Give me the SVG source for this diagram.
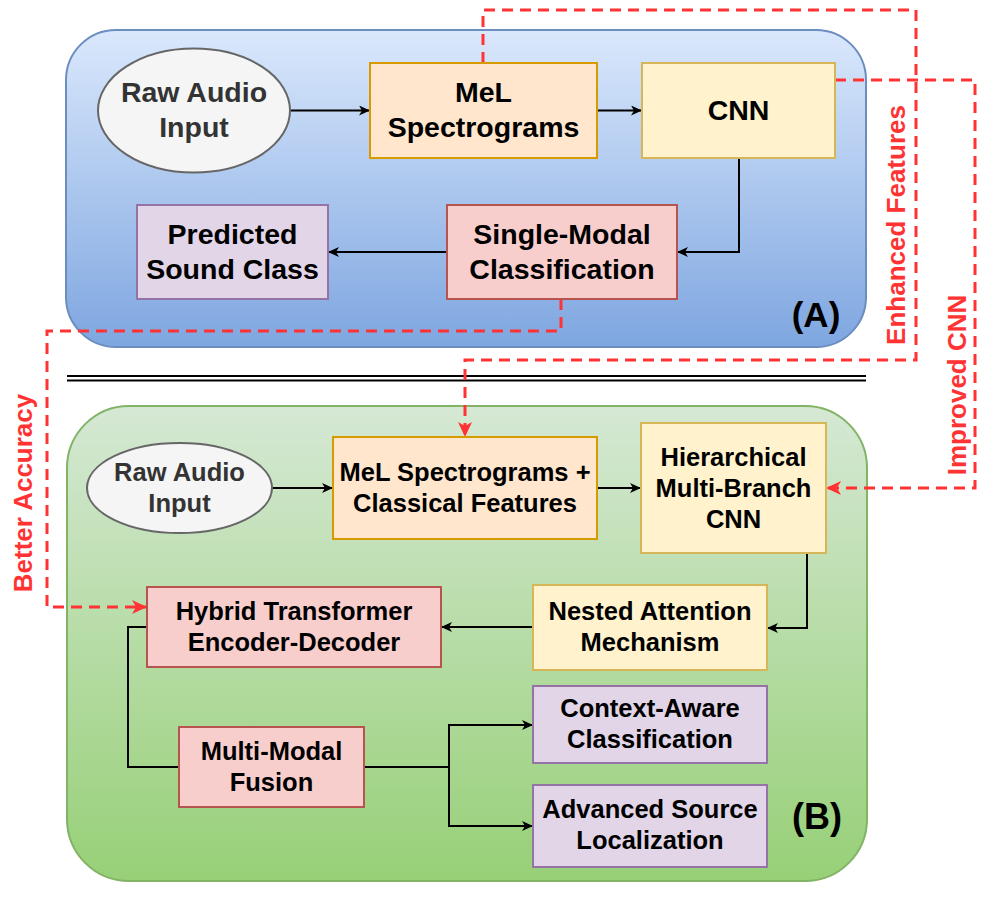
<svg xmlns="http://www.w3.org/2000/svg" width="994" height="900" viewBox="0 0 994 900">
<style>
.t{font-family:"Liberation Sans",Arial,sans-serif;font-weight:bold;fill:#000;text-anchor:middle}
.ta{font-size:28.5px}
.tb{font-size:25.5px}
.gray{fill:#333}
.red{font-family:"Liberation Sans",Arial,sans-serif;font-weight:bold;font-size:26px;fill:#f33;text-anchor:middle}
.orange{fill:#ffe6cc;stroke:#d79b00;stroke-width:2}
.yellow{fill:#fff2cc;stroke:#d6b656;stroke-width:2}
.pink{fill:#f8cecc;stroke:#b85450;stroke-width:2}
.purple{fill:#e1d5e7;stroke:#9673a6;stroke-width:2}
.ell{fill:#f5f5f5;stroke:#666;stroke-width:2}
.c{fill:none;stroke:#000;stroke-width:2;marker-end:url(#ab)}
.cn{fill:none;stroke:#000;stroke-width:2}
.d{fill:none;stroke:#f33;stroke-width:3;stroke-dasharray:11 7;marker-end:url(#ar)}
</style>
<defs>
<linearGradient id="ga" x1="0" y1="0" x2="0" y2="1"><stop offset="0" stop-color="#dae8fc"/><stop offset="1" stop-color="#7ea6e0"/></linearGradient>
<linearGradient id="gb" x1="0" y1="0" x2="0" y2="1"><stop offset="0" stop-color="#d5e8d4"/><stop offset="1" stop-color="#97d077"/></linearGradient>
<marker id="ab" markerUnits="userSpaceOnUse" markerWidth="12" markerHeight="10" refX="11" refY="5" orient="auto"><path d="M0,0 L11,5 L0,10 L3,5 z" fill="#000"/></marker>
<marker id="ar" markerUnits="userSpaceOnUse" markerWidth="16" markerHeight="14" refX="15" refY="7" orient="auto"><path d="M0,0 L15,7 L0,14 L4,7 z" fill="#f33"/></marker>
</defs>

<g id="panelA"><rect x="66" y="30" width="800" height="317" rx="50" fill="url(#ga)" stroke="#6c8ebf" stroke-width="2"/><text class="t" x="816" y="327" font-size="35">(A)</text></g>
<g id="separator"><line x1="67" y1="376" x2="866" y2="376" stroke="#000" stroke-width="2"/><line x1="67" y1="380.5" x2="866" y2="380.5" stroke="#000" stroke-width="2"/></g>
<g id="panelB"><rect x="67" y="406" width="800" height="475" rx="62" fill="url(#gb)" stroke="#82b366" stroke-width="2"/><text class="t" x="817" y="829" font-size="36">(B)</text></g>

<g id="connectors">
<path class="c" d="M290,110.5 H370"/>
<path class="c" d="M597,110.5 H642"/>
<path class="c" d="M739,158 V252 H677"/>
<path class="c" d="M447,252 H328"/>
<path class="c" d="M272,488 H333"/>
<path class="c" d="M597,488 H641"/>
<path class="c" d="M807,553 V628 H767"/>
<path class="c" d="M533,627 H441"/>
<path class="cn" d="M147,627 H128 V767 H179"/>
<path class="c" d="M364,767 H449 V725 H533"/>
<path class="c" d="M449,767 V826 H533"/>
<path class="d" d="M483,63 V10 H916 V360 H465 V437"/>
<path class="d" d="M835,80 H975 V488 H826"/>
<path class="d" d="M561,299 V331 H47 V607 H147"/>
<text class="red" transform="translate(905,225) rotate(-90)">Enhanced Features</text>
<text class="red" transform="translate(966,385) rotate(-90)">Improved CNN</text>
<text class="red" transform="translate(32,493) rotate(-90)">Better Accuracy</text>
</g>

<g id="rawA"><ellipse class="ell" cx="194" cy="110.5" rx="96" ry="62"/><text class="t ta gray" x="194" y="102">Raw Audio</text><text class="t ta gray" x="194" y="137">Input</text></g>
<g id="melA"><rect class="orange" x="370" y="63" width="227" height="95"/><text class="t ta" x="483.5" y="102">MeL</text><text class="t ta" x="483.5" y="137">Spectrograms</text></g>
<g id="cnnA"><rect class="yellow" x="642" y="63" width="193" height="95"/><text class="t ta" x="738.5" y="120">CNN</text></g>
<g id="singleA"><rect class="pink" x="447" y="205" width="230" height="94"/><text class="t ta" x="562" y="244">Single-Modal</text><text class="t ta" x="562" y="279">Classification</text></g>
<g id="predA"><rect class="purple" x="137" y="205" width="191" height="94"/><text class="t ta" x="232.5" y="244">Predicted</text><text class="t ta" x="232.5" y="279">Sound Class</text></g>

<g id="rawB"><ellipse class="ell" cx="179.5" cy="488" rx="92.5" ry="45"/><text class="t tb gray" x="179.5" y="481">Raw Audio</text><text class="t tb gray" x="179.5" y="512">Input</text></g>
<g id="melB"><rect class="orange" x="333" y="437" width="264" height="102"/><text class="t tb" x="465" y="481">MeL Spectrograms +</text><text class="t tb" x="465" y="512">Classical Features</text></g>
<g id="hierB"><rect class="yellow" x="641" y="423" width="185" height="130"/><text class="t tb" x="733.5" y="466">Hierarchical</text><text class="t tb" x="733.5" y="497">Multi-Branch</text><text class="t tb" x="733.5" y="528">CNN</text></g>
<g id="nestedB"><rect class="yellow" x="533" y="585" width="234" height="85"/><text class="t tb" x="650" y="620">Nested Attention</text><text class="t tb" x="650" y="651">Mechanism</text></g>
<g id="hybridB"><rect class="pink" x="147" y="587" width="294" height="80"/><text class="t tb" x="294" y="620">Hybrid Transformer</text><text class="t tb" x="294" y="651">Encoder-Decoder</text></g>
<g id="fusionB"><rect class="pink" x="179" y="727" width="185" height="80"/><text class="t tb" x="271.5" y="760">Multi-Modal</text><text class="t tb" x="271.5" y="791">Fusion</text></g>
<g id="contextB"><rect class="purple" x="533" y="686" width="234" height="77"/><text class="t tb" x="650" y="717">Context-Aware</text><text class="t tb" x="650" y="748">Classification</text></g>
<g id="advB"><rect class="purple" x="533" y="785" width="234" height="82"/><text class="t tb" x="650" y="818">Advanced Source</text><text class="t tb" x="650" y="849">Localization</text></g>
</svg>
